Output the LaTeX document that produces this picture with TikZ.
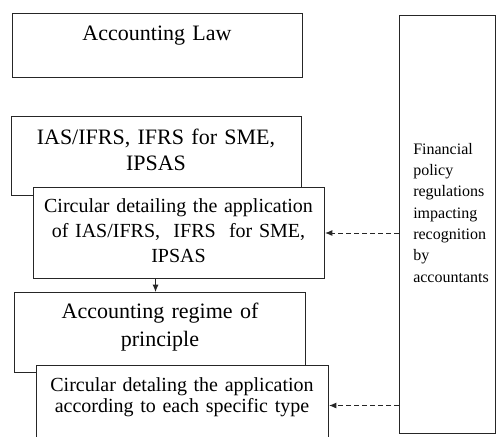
\documentclass[tikz,border=0pt]{standalone}
\usepackage{fontspec}
\setmainfont{Liberation Serif}
\usetikzlibrary{arrows.meta}

\begin{document}
\begin{tikzpicture}[x=0.75pt, y=-0.75pt]
	\tikzstyle{panel} = [draw=black!85, line width=0.75pt, fill=white, anchor=north west, inner sep=0pt]
	\tikzstyle{boxtext} = [inner sep=0pt, anchor=base, text width=210pt, align=center]
	\tikzstyle{flow} = [draw=black!85, line width=0.75pt, -{Latex[length=5.5pt, width=4.5pt]}]
	\useasboundingbox (0,0) rectangle (496,436);
	\clip (0,0) rectangle (496,436);
	\node[panel, minimum width=217.5pt, minimum height=48pt] (law) at (12,13) {};
	\node[boxtext, font=\fontsize{16.5}{19.5}\selectfont] (lawtext) at (157,40) {Accounting Law};
	\node[panel, minimum width=217.5pt, minimum height=59.25pt] (ifrs) at (11,116) {};
	\node[boxtext, font=\fontsize{16.5}{19.5}\selectfont] (ifrstext) at (156,144) {IAS/IFRS, IFRS for SME,\\IPSAS};
	\node[panel, minimum width=218.25pt, minimum height=68.25pt] (circ1) at (33,187) {};
	\node[boxtext, font=\fontsize{15}{19}\selectfont] (circ1text) at (178.5,212) {Circular detailing the application\\of IAS/IFRS,\ \ IFRS\ \ for SME,\\IPSAS};
	\node[panel, minimum width=218.25pt, minimum height=60pt] (regime) at (14,292) {};
	\node[boxtext, font=\fontsize{16.5}{21}\selectfont] (regimetext) at (160,318) {Accounting regime of\\principle};
	\node[panel, minimum width=219pt, minimum height=60pt] (circ2) at (36,365) {};
	\node[boxtext, font=\fontsize{15}{15.75}\selectfont] (circ2text) at (182,391) {Circular detaling the application\\according to each specific type};
	\node[panel, minimum width=72pt, minimum height=313.5pt] (policy) at (399,15) {};
	\node[boxtext, anchor=base west, text width=70pt, align=left, font=\fontsize{12}{16}\selectfont] (policytext) at (413,154) {Financial\\policy\\regulations\\impacting\\recognition\\by\\accountants};
	\draw[flow] ([xshift=-17.6pt]circ1.south) -- ([xshift=-17.6pt]circ1.south |- regime.north);
	\draw[flow, dash pattern=on 3.5pt off 2.5pt] (policy.west |- circ1.east) -- (circ1.east);
	\draw[flow, dash pattern=on 3.5pt off 2.5pt] (policy.west |- circ2.east) -- (circ2.east);
\end{tikzpicture}
\end{document}
